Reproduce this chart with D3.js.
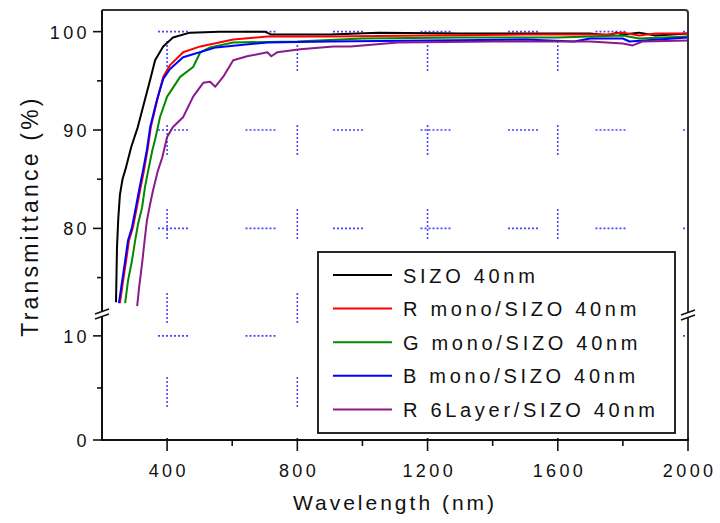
<!DOCTYPE html>
<html>
<head>
<meta charset="utf-8">
<script src="https://cdn.jsdelivr.net/npm/d3@7"></script>
<style>
  body { margin: 0; background: #fff; }
  svg text { font-family: "Liberation Sans", Arial, sans-serif; fill: #111; }
</style>
</head>
<body>
<div id="chart"></div>
<script>
// wavelength (nm) / transmittance (%)
var sizoNm  = [243, 246, 250, 255, 263, 272, 290, 310, 332, 348, 363, 388, 418, 470, 560, 700, 720, 900, 1050, 1300, 1500, 1700, 1760, 1780, 1800, 1850, 1900, 2000];
var sizoT   = [72.5, 78, 81, 83.4, 85, 86, 88.3, 90.3, 93.1, 95.1, 97.1, 98.5, 99.4, 99.9, 100, 100, 99.7, 99.7, 99.9, 99.8, 99.8, 99.8, 99.6, 99.9, 99.7, 99.9, 99.6, 99.8];

var rMonoNm = [255, 265, 274, 283, 295, 305, 317, 329, 340, 350, 370, 388, 409, 449, 502, 603, 708, 900, 1200, 1500, 1750, 1800, 1850, 1900, 2000];
var rMonoT  = [72.4, 74.7, 76.7, 78.8, 80.1, 81.8, 83.9, 85.9, 88, 90.3, 93.1, 95.4, 96.6, 97.9, 98.5, 99.2, 99.5, 99.5, 99.6, 99.7, 99.7, 99.9, 99.6, 99.8, 99.8];

var gMonoNm = [271, 280, 292, 302, 311, 323, 332, 342, 355, 363, 378, 400, 440, 480, 502, 532, 603, 800, 1000, 1300, 1600, 1800, 1850, 2000];
var gMonoT  = [72.4, 74.7, 76.7, 78.8, 80.5, 82.1, 84.2, 85.9, 88, 89, 91.3, 93.4, 95.4, 96.4, 97.9, 98.4, 98.9, 99.0, 99.3, 99.4, 99.4, 99.6, 99.3, 99.5];

var bMonoNm = [252, 262, 271, 280, 292, 302, 314, 326, 338, 348, 369, 388, 409, 449, 550, 708, 900, 1200, 1500, 1650, 1700, 1800, 1820, 2000];
var bMonoT  = [72.4, 74.7, 76.7, 78.8, 80.1, 81.8, 83.9, 85.9, 88, 90.3, 93.1, 95.2, 96.2, 97.4, 98.4, 98.9, 99.0, 99.1, 99.2, 99.0, 99.3, 99.3, 99.0, 99.4];

var r6Nm    = [308, 314, 323, 332, 338, 348, 357, 372, 385, 400, 418, 449, 480, 511, 532, 548, 572, 603, 646, 708, 720, 738, 809, 911, 963, 1108, 1400, 1700, 1800, 1830, 1860, 2000];
var r6T     = [72.1, 74, 76.4, 79.1, 80.8, 82.5, 83.9, 85.9, 87.2, 89.3, 90.3, 91.3, 93.4, 94.8, 94.9, 94.4, 95.4, 97.1, 97.5, 97.9, 97.5, 97.9, 98.2, 98.5, 98.5, 98.9, 99.0, 99.0, 98.8, 98.6, 99.0, 99.1];

var seriesNames  = ["SIZO 40nm", "R mono/SIZO 40nm", "G mono/SIZO 40nm", "B mono/SIZO 40nm", "R 6Layer/SIZO 40nm"];
var seriesColors = ["#000000", "#ff0000", "#008a00", "#0000ff", "#8b1a8b"];

var xTicks = [400, 800, 1200, 1600, 2000];
var xMinor = [600, 1000, 1400, 1800];
var yUpTicks = [80, 90, 100];
var yUpMinor = [75, 85, 95];
var yLoTicks = [0, 10];
var yLoMinor = [5];
var yUpGrid = [80, 90, 100];
var yLoGrid = [10];
var xGrid = [400, 800, 1200, 1600];

(function() {
    var seriesX = [sizoNm, rMonoNm, gMonoNm, bMonoNm, r6Nm];
    var seriesY = [sizoT, rMonoT, gMonoT, bMonoT, r6T];

    var W = 720, H = 523;
    var mLeft = 102, mRight = 688, mTop = 10, mBottom = 440, breakY = 314;

    var x = d3.scaleLinear().domain([200, 2000]).range([mLeft, mRight]);
    var yUp = d3.scaleLinear().domain([71.3, 102.2]).range([breakY, mTop]);
    var yLo = d3.scaleLinear().domain([0, 12.1]).range([mBottom, breakY]);

    var svg = d3.select("#chart").append("svg")
        .attr("width", W)
        .attr("height", H);

    // dotted dash pattern: n dots, then a long gap
    function dotPattern(n, gap) {
        var a = [];
        for (var i = 0; i < n; i++) a.push(2, 2);
        a[a.length - 1] += gap;
        return a.join(",");
    }

    var grid = svg.append("g").attr("class", "grid")
        .attr("stroke", "#4646ff")
        .attr("stroke-width", 1.6)
        .attr("fill", "none");

    var hPat = dotPattern(8, 55.5);
    function hGrid(yy) {
        grid.append("line")
            .attr("x1", mLeft).attr("x2", mRight)
            .attr("y1", yy).attr("y2", yy)
            .attr("stroke-dasharray", hPat)
            .attr("stroke-dashoffset", 31.5);
    }
    yUpGrid.forEach(function(v) { hGrid(yUp(v)); });
    yLoGrid.forEach(function(v) { hGrid(yLo(v)); });

    var vPat = dotPattern(8, 52);
    xGrid.forEach(function(v) {
        grid.append("line")
            .attr("x1", x(v)).attr("x2", x(v))
            .attr("y1", mBottom).attr("y2", mTop)
            .attr("stroke-dasharray", vPat)
            .attr("stroke-dashoffset", 51);
    });

    // curves, clipped to the upper part of the broken axis
    svg.append("clipPath").attr("id", "clipUp")
        .append("rect")
        .attr("x", mLeft).attr("y", mTop)
        .attr("width", mRight - mLeft).attr("height", breakY - mTop - 4);

    var line = d3.line()
        .x(function(d) { return x(d[0]); })
        .y(function(d) { return yUp(d[1]); });

    var curves = svg.append("g").attr("clip-path", "url(#clipUp)");
    seriesNames.forEach(function(name, i) {
        var pts = d3.zip(seriesX[i], seriesY[i]);
        curves.append("path")
            .datum(pts)
            .attr("fill", "none")
            .attr("stroke", seriesColors[i])
            .attr("stroke-width", 2)
            .attr("stroke-linejoin", "round")
            .attr("d", line);
    });

    // frame and axes
    var axisCol = "#111";
    svg.append("path")
        .attr("d", "M" + mLeft + "," + mTop + "H" + (mRight - 3) + "Q" + mRight + "," + mTop + " " + mRight + "," + (mTop + 3) + "V" + mBottom)
        .attr("fill", "none")
        .attr("stroke", "#333")
        .attr("stroke-width", 2);

    svg.append("line")
        .attr("x1", mLeft).attr("x2", mLeft)
        .attr("y1", mTop).attr("y2", mBottom)
        .attr("stroke", axisCol).attr("stroke-width", 2);

    svg.append("line")
        .attr("x1", mLeft - 1).attr("x2", mRight + 1)
        .attr("y1", mBottom).attr("y2", mBottom)
        .attr("stroke", axisCol).attr("stroke-width", 2);

    var tickFont = { size: 18, spacing: 3.4 };

    // x ticks
    var xt = svg.append("g");
    xTicks.forEach(function(v) {
        xt.append("line")
            .attr("x1", x(v)).attr("x2", x(v))
            .attr("y1", mBottom - 2).attr("y2", mBottom + 11)
            .attr("stroke", axisCol).attr("stroke-width", 1.6);
        xt.append("text")
            .attr("x", x(v) + tickFont.spacing / 2)
            .attr("y", mBottom + 37)
            .attr("text-anchor", "middle")
            .attr("font-size", tickFont.size)
            .attr("letter-spacing", tickFont.spacing)
            .text(v);
    });
    xMinor.forEach(function(v) {
        xt.append("line")
            .attr("x1", x(v)).attr("x2", x(v))
            .attr("y1", mBottom).attr("y2", mBottom + 6)
            .attr("stroke", axisCol).attr("stroke-width", 1.6);
    });

    // y ticks on both segments
    var yt = svg.append("g");
    function yTick(yy, major, label) {
        yt.append("line")
            .attr("x1", mLeft - (major ? 9 : 5)).attr("x2", mLeft)
            .attr("y1", yy).attr("y2", yy)
            .attr("stroke", axisCol).attr("stroke-width", 1.6);
        if (label !== undefined) {
            yt.append("text")
                .attr("x", mLeft - 12)
                .attr("y", yy + 7)
                .attr("text-anchor", "end")
                .attr("font-size", tickFont.size)
                .attr("letter-spacing", tickFont.spacing)
                .text(label);
        }
    }
    yUpTicks.forEach(function(v) { yTick(yUp(v), true, v); });
    yUpMinor.forEach(function(v) { yTick(yUp(v), false); });
    yLoTicks.forEach(function(v) { yTick(yLo(v), true, v); });
    yLoMinor.forEach(function(v) { yTick(yLo(v), false); });

    // axis break marks
    function breakMark(cx, cy) {
        svg.append("rect")
            .attr("x", cx - 3).attr("y", cy - 4)
            .attr("width", 6).attr("height", 6)
            .attr("fill", "#fff");
        [0, 5].forEach(function(dy) {
            svg.append("line")
                .attr("x1", cx - 7).attr("y1", cy - 1 + dy)
                .attr("x2", cx + 7).attr("y2", cy - 6 + dy)
                .attr("stroke", axisCol).attr("stroke-width", 1.4);
        });
    }
    breakMark(mLeft, breakY + 1);
    breakMark(mRight, breakY + 2);

    // axis titles
    svg.append("text")
        .attr("x", (mLeft + mRight) / 2)
        .attr("y", 510)
        .attr("text-anchor", "middle")
        .attr("font-size", 21)
        .attr("letter-spacing", 3)
        .text("Wavelength (nm)");

    svg.append("text")
        .attr("transform", "translate(38,216) rotate(-90)")
        .attr("text-anchor", "middle")
        .attr("font-size", 23)
        .attr("letter-spacing", 3.2)
        .text("Transmittance (%)");

    // legend
    var lg = svg.append("g");
    lg.append("rect")
        .attr("x", 318).attr("y", 252)
        .attr("width", 357).attr("height", 181)
        .attr("fill", "#fff")
        .attr("stroke", "#111")
        .attr("stroke-width", 1.8);

    seriesNames.forEach(function(name, i) {
        var yy = 275 + i * 33.6;
        lg.append("line")
            .attr("x1", 333).attr("x2", 392)
            .attr("y1", yy).attr("y2", yy)
            .attr("stroke", seriesColors[i])
            .attr("stroke-width", 2);
        lg.append("text")
            .attr("x", 403)
            .attr("y", yy + 7.5)
            .attr("font-size", 20)
            .attr("letter-spacing", 3.7)
            .text(name);
    });
})();
</script>
</body>
</html>
